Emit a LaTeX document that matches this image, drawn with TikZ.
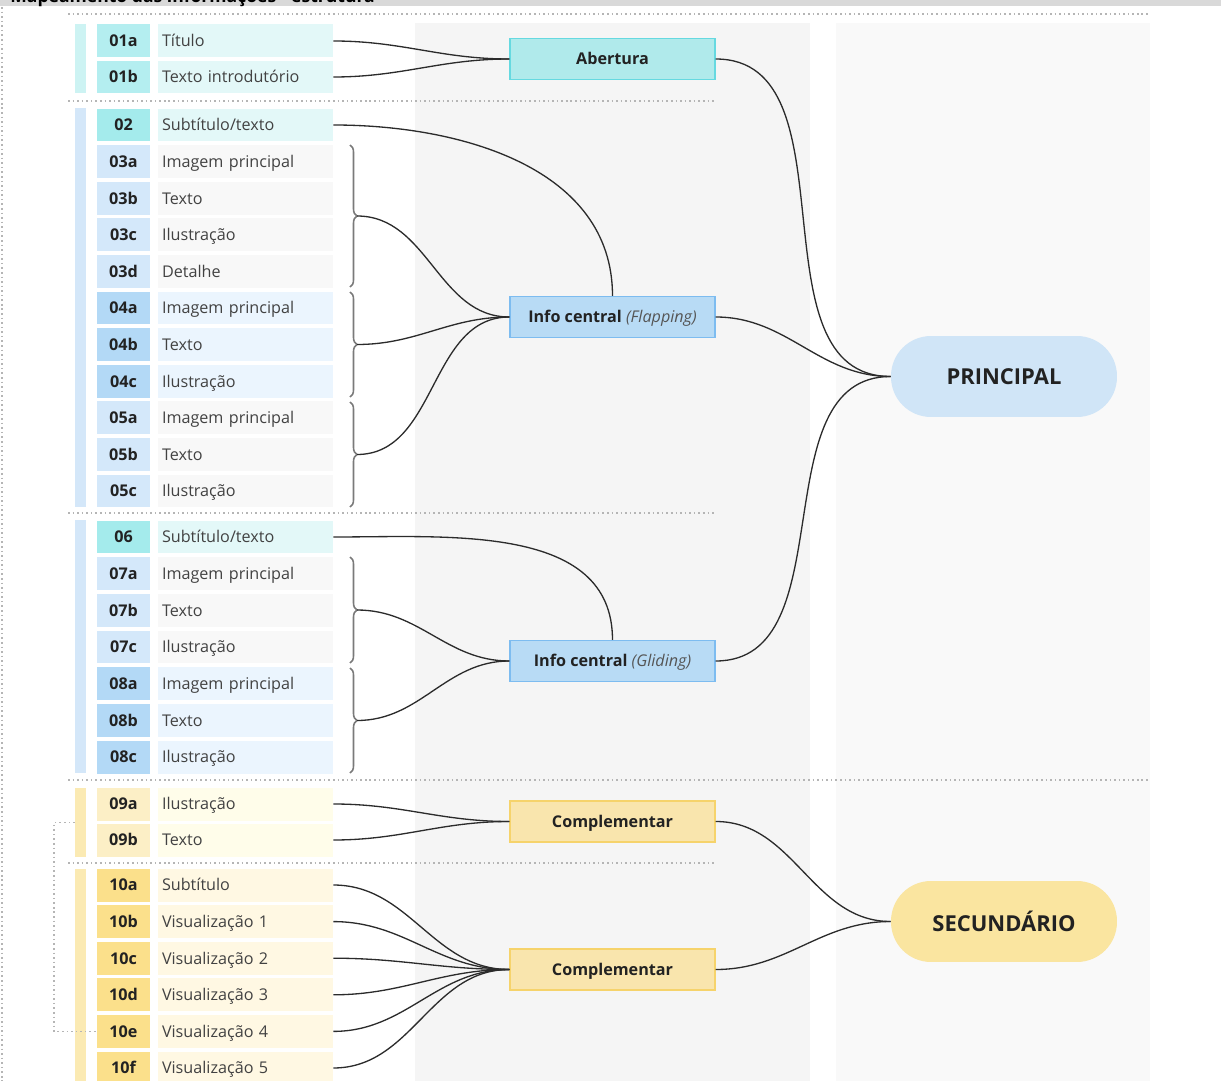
\documentclass[tikz,border=0pt]{standalone}
\usepackage{fontspec}
\setmainfont{Open Sans}
\usepackage{tikz}
\usetikzlibrary{decorations.pathreplacing}

\definecolor{titlebar}{HTML}{D9D9D9}
\definecolor{dotgray}{HTML}{B5B5B5}
\definecolor{linkgray}{HTML}{2B2B2B}
\definecolor{bracegray}{HTML}{7A7A7A}
\definecolor{panelA}{HTML}{F5F5F5}
\definecolor{panelB}{HTML}{F9F9F9}
\definecolor{codetext}{HTML}{222222}
\definecolor{itemtext}{HTML}{424242}
% cells
\definecolor{cyancode}{HTML}{B4EEF0}
\definecolor{tealcode}{HTML}{A4EBEC}
\definecolor{cyanitem}{HTML}{E3F8F8}
\definecolor{bluecode}{HTML}{D4E8FA}
\definecolor{grayitem}{HTML}{F8F8F8}
\definecolor{deepcode}{HTML}{B3D9F6}
\definecolor{blueitem}{HTML}{EBF5FE}
\definecolor{palecode}{HTML}{FCEFC6}
\definecolor{paleitem}{HTML}{FFFDEA}
\definecolor{goldcode}{HTML}{FBE08B}
\definecolor{golditem}{HTML}{FFF8E3}
% bars and boxes
\definecolor{cyanbar}{HTML}{CDF3F3}
\definecolor{bluebar}{HTML}{D4E7F9}
\definecolor{yellowbar}{HTML}{FBEAB3}
\definecolor{openfill}{HTML}{B0EAEB}
\definecolor{opendraw}{HTML}{66D9E0}
\definecolor{infofill}{HTML}{B8DBF5}
\definecolor{infodraw}{HTML}{7DBCF0}
\definecolor{compfill}{HTML}{F9E5AD}
\definecolor{compdraw}{HTML}{F6D36B}
\definecolor{mainblue}{HTML}{D0E5F7}
\definecolor{mainyellow}{HTML}{FAE5A0}
\definecolor{notegray}{HTML}{555555}

\begin{document}
\begin{tikzpicture}[
    x=0.02cm, y=-0.02cm,
    code cell/.style={minimum width=1.06cm, minimum height=0.66cm, inner sep=0pt, text height=1.5ex, text depth=0.25ex, font=\fontsize{9.2}{11}\selectfont\bfseries, text=codetext},
    item cell/.style={minimum height=0.66cm, text width=3.34cm, inner xsep=0.08cm, inner ysep=0pt, text height=1.5ex, text depth=0.25ex, align=left, font=\fontsize{9.2}{11}\selectfont, text=itemtext},
    side bar/.style={minimum width=0.22cm, inner sep=0pt},
    group node/.style={minimum width=4.1cm, minimum height=0.82cm, draw, line width=0.8pt, text height=1.5ex, text depth=0.25ex, font=\fontsize{9.2}{11}\selectfont\bfseries, text=codetext},
    main node/.style={rounded corners=0.8cm, minimum width=4.52cm, minimum height=1.62cm, inner sep=0pt, font=\fontsize{12.5}{14}\selectfont\bfseries, text=codetext},
    link/.style={draw=linkgray, line width=0.75pt},
    sep line/.style={draw=dotgray, line width=0.9pt, dash pattern=on 0.9pt off 1.7pt},
    curly/.style={draw=bracegray, line width=0.9pt, decorate, decoration={brace, amplitude=0.14cm}}
]
    \useasboundingbox (0,0) rectangle (1221,1081);

    % Title bar
    \begin{scope}
        \clip (0,0) rectangle (1221,1081);
        \fill[titlebar] (0,0) rectangle (1221,6.5);
        \node[anchor=base west, inner sep=0pt, font=\fontsize{10}{12}\selectfont\bfseries] (title) at (10,3) {Mapeamento das informações - estrutura};
    \end{scope}

    % Background columns
    \fill[panelA] (415,23) rectangle (810,1081);
    \fill[panelB] (836,23) rectangle (1150,1081);

    % Dotted frame and separators
    \draw[sep line] (2,7) -- (2,1081);
    \draw[sep line] (68,14) -- (1150,14);
    \draw[sep line] (68,101) -- (715,101);
    \draw[sep line] (68,513) -- (715,513);
    \draw[sep line] (68,780) -- (1150,780);
    \draw[sep line] (68,863) -- (715,863);

    % Side bars
    \node[side bar, fill=cyanbar, minimum height=1.38cm] (bar01) at (80.5,58.5) {};
    \node[side bar, fill=bluebar, minimum height=7.98cm] (bar02) at (80.5,307.5) {};
    \node[side bar, fill=bluebar, minimum height=5.06cm] (bar06) at (80.5,646.5) {};
    \node[side bar, fill=yellowbar, minimum height=1.38cm] (bar09) at (80.5,822.5) {};
    \node[side bar, fill=yellowbar, minimum height=4.24cm] (bar10) at (80.5,975) {};

    % Abertura
    \node[code cell, fill=cyancode] (c01a) at (123.5,41) {01a};
    \node[item cell, fill=cyanitem] (t01a) at (245.5,41) {Título};
    \node[code cell, fill=cyancode] (c01b) at (123.5,77) {01b};
    \node[item cell, fill=cyanitem] (t01b) at (245.5,77) {Texto introdutório};

    % Flapping
    \node[code cell, fill=tealcode] (c02) at (123.5,125) {02};
    \node[item cell, fill=cyanitem] (t02) at (245.5,125) {Subtítulo/texto};
    \node[code cell, fill=bluecode] (c03a) at (123.5,161.6) {03a};
    \node[item cell, fill=grayitem] (t03a) at (245.5,161.6) {Imagem principal};
    \node[code cell, fill=bluecode] (c03b) at (123.5,198.2) {03b};
    \node[item cell, fill=grayitem] (t03b) at (245.5,198.2) {Texto};
    \node[code cell, fill=bluecode] (c03c) at (123.5,234.8) {03c};
    \node[item cell, fill=grayitem] (t03c) at (245.5,234.8) {Ilustração};
    \node[code cell, fill=bluecode] (c03d) at (123.5,271.4) {03d};
    \node[item cell, fill=grayitem] (t03d) at (245.5,271.4) {Detalhe};
    \node[code cell, fill=deepcode] (c04a) at (123.5,308) {04a};
    \node[item cell, fill=blueitem] (t04a) at (245.5,308) {Imagem principal};
    \node[code cell, fill=deepcode] (c04b) at (123.5,344.6) {04b};
    \node[item cell, fill=blueitem] (t04b) at (245.5,344.6) {Texto};
    \node[code cell, fill=deepcode] (c04c) at (123.5,381.2) {04c};
    \node[item cell, fill=blueitem] (t04c) at (245.5,381.2) {Ilustração};
    \node[code cell, fill=bluecode] (c05a) at (123.5,417.8) {05a};
    \node[item cell, fill=grayitem] (t05a) at (245.5,417.8) {Imagem principal};
    \node[code cell, fill=bluecode] (c05b) at (123.5,454.4) {05b};
    \node[item cell, fill=grayitem] (t05b) at (245.5,454.4) {Texto};
    \node[code cell, fill=bluecode] (c05c) at (123.5,491) {05c};
    \node[item cell, fill=grayitem] (t05c) at (245.5,491) {Ilustração};

    % Gliding
    \node[code cell, fill=tealcode] (c06) at (123.5,537) {06};
    \node[item cell, fill=cyanitem] (t06) at (245.5,537) {Subtítulo/texto};
    \node[code cell, fill=bluecode] (c07a) at (123.5,573.7) {07a};
    \node[item cell, fill=grayitem] (t07a) at (245.5,573.7) {Imagem principal};
    \node[code cell, fill=bluecode] (c07b) at (123.5,610.3) {07b};
    \node[item cell, fill=grayitem] (t07b) at (245.5,610.3) {Texto};
    \node[code cell, fill=bluecode] (c07c) at (123.5,647) {07c};
    \node[item cell, fill=grayitem] (t07c) at (245.5,647) {Ilustração};
    \node[code cell, fill=deepcode] (c08a) at (123.5,683.7) {08a};
    \node[item cell, fill=blueitem] (t08a) at (245.5,683.7) {Imagem principal};
    \node[code cell, fill=deepcode] (c08b) at (123.5,720.3) {08b};
    \node[item cell, fill=blueitem] (t08b) at (245.5,720.3) {Texto};
    \node[code cell, fill=deepcode] (c08c) at (123.5,757) {08c};
    \node[item cell, fill=blueitem] (t08c) at (245.5,757) {Ilustração};

    % Complementar
    \node[code cell, fill=palecode] (c09a) at (123.5,804) {09a};
    \node[item cell, fill=paleitem] (t09a) at (245.5,804) {Ilustração};
    \node[code cell, fill=palecode] (c09b) at (123.5,840) {09b};
    \node[item cell, fill=paleitem] (t09b) at (245.5,840) {Texto};
    \node[code cell, fill=goldcode] (c10a) at (123.5,885) {10a};
    \node[item cell, fill=golditem] (t10a) at (245.5,885) {Subtítulo};
    \node[code cell, fill=goldcode] (c10b) at (123.5,921.6) {10b};
    \node[item cell, fill=golditem] (t10b) at (245.5,921.6) {Visualização 1};
    \node[code cell, fill=goldcode] (c10c) at (123.5,958.2) {10c};
    \node[item cell, fill=golditem] (t10c) at (245.5,958.2) {Visualização 2};
    \node[code cell, fill=goldcode] (c10d) at (123.5,994.8) {10d};
    \node[item cell, fill=golditem] (t10d) at (245.5,994.8) {Visualização 3};
    \node[code cell, fill=goldcode] (c10e) at (123.5,1031.4) {10e};
    \node[item cell, fill=golditem] (t10e) at (245.5,1031.4) {Visualização 4};
    \node[code cell, fill=goldcode] (c10f) at (123.5,1068) {10f};
    \node[item cell, fill=golditem] (t10f) at (245.5,1068) {Visualização 5};

    % 09 -> 10e
    \coordinate (turn) at (54,1031.4);
    \draw[sep line] (bar09.west) -| (turn) -- (c10e.west);

    % Braces
    \draw[curly] (350,145) -- (350,287);
    \draw[curly] (350,292) -- (350,397);
    \draw[curly] (350,402) -- (350,507);
    \draw[curly] (350,557) -- (350,663);
    \draw[curly] (350,668) -- (350,773);
    \coordinate (b03) at (357,216);
    \coordinate (b04) at (357,344.5);
    \coordinate (b05) at (357,454.5);
    \coordinate (b07) at (357,610);
    \coordinate (b08) at (357,720.5);

    % Groups
    \node[group node, fill=openfill, draw=opendraw] (abertura) at (612.5,59) {Abertura};
    \node[group node, fill=infofill, draw=infodraw] (flapping) at (612.5,317) {Info central {\mdseries\itshape\color{notegray}(Flapping)}};
    \node[group node, fill=infofill, draw=infodraw] (gliding) at (612.5,661) {Info central {\mdseries\itshape\color{notegray}(Gliding)}};
    \node[group node, fill=compfill, draw=compdraw] (comp1) at (612.5,821.5) {Complementar};
    \node[group node, fill=compfill, draw=compdraw] (comp2) at (612.5,969.5) {Complementar};

    \node[main node, fill=mainblue] (principal) at (1004,376.5) {PRINCIPAL};
    \node[main node, fill=mainyellow] (secundario) at (1004,921.5) {SECUNDÁRIO};

    % Links
    \draw[link] (t01a.east) to[out=0, in=180] (abertura.west);
    \draw[link] (t01b.east) to[out=0, in=180] (abertura.west);
    \draw[link] (t02.east) to[out=0, in=90] (flapping.north);
    \draw[link] (b03) to[out=0, in=180] (flapping.west);
    \draw[link] (b04) to[out=0, in=180] (flapping.west);
    \draw[link] (b05) to[out=0, in=180] (flapping.west);
    \draw[link] (t06.east) to[out=0, in=90] (gliding.north);
    \draw[link] (b07) to[out=0, in=180] (gliding.west);
    \draw[link] (b08) to[out=0, in=180] (gliding.west);
    \draw[link] (t09a.east) to[out=0, in=180] (comp1.west);
    \draw[link] (t09b.east) to[out=0, in=180] (comp1.west);
    \draw[link] (t10a.east) to[out=0, in=180] (comp2.west);
    \draw[link] (t10b.east) to[out=0, in=180] (comp2.west);
    \draw[link] (t10c.east) to[out=0, in=180] (comp2.west);
    \draw[link] (t10d.east) to[out=0, in=180] (comp2.west);
    \draw[link] (t10e.east) to[out=0, in=180] (comp2.west);
    \draw[link] (t10f.east) to[out=0, in=180] (comp2.west);

    \draw[link] (abertura.east) to[out=0, in=180] (principal.west);
    \draw[link] (flapping.east) to[out=0, in=180] (principal.west);
    \draw[link] (gliding.east) to[out=0, in=180] (principal.west);
    \draw[link] (comp1.east) to[out=0, in=180] (secundario.west);
    \draw[link] (comp2.east) to[out=0, in=180] (secundario.west);
\end{tikzpicture}
\end{document}
